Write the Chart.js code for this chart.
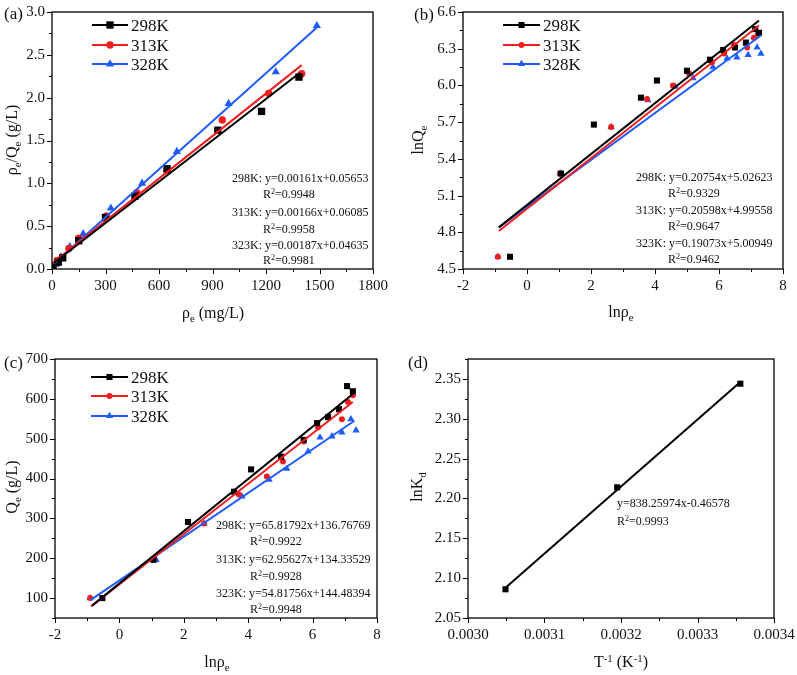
<!DOCTYPE html>
<html>
<head>
<meta charset="utf-8">
<script src="https://cdn.jsdelivr.net/npm/chart.js@4.4.0/dist/chart.umd.min.js"></script>
<style>
  html, body { margin: 0; padding: 0; background: #fff; }
  #wrap { position: relative; width: 797px; height: 675px; }
  canvas { position: absolute; }
</style>
</head>
<body>
<div id="wrap">
  <canvas id="ca" width="398" height="335" style="left:0;top:0"></canvas>
  <canvas id="cb" width="399" height="335" style="left:398px;top:0"></canvas>
  <canvas id="cc" width="398" height="340" style="left:0;top:335px"></canvas>
  <canvas id="cd" width="399" height="340" style="left:398px;top:335px"></canvas>
</div>
<script>
// (a) ρe/Qe vs ρe
const aX298 = [5, 35, 60, 150, 300, 465, 645, 930, 1175, 1385];
const aY298 = [0.02, 0.08, 0.13, 0.33, 0.60, 0.85, 1.17, 1.62, 1.84, 2.24];
const aX313 = [5, 30, 95, 150, 305, 475, 645, 955, 1215, 1400];
const aY313 = [0.03, 0.10, 0.24, 0.36, 0.62, 0.89, 1.15, 1.74, 2.05, 2.28];
const aX328 = [5, 20, 50, 100, 175, 330, 505, 700, 990, 1255, 1485];
const aY328 = [0.02, 0.05, 0.14, 0.26, 0.41, 0.71, 1.00, 1.37, 1.93, 2.30, 2.84];
const aFitX298 = [10, 1390], aFitY298 = [0.07, 2.29];
const aFitX313 = [10, 1400], aFitY313 = [0.08, 2.38];
const aFitX328 = [10, 1485], aFitY328 = [0.06, 2.82];

// (b) lnQe vs lnρe
const bX298 = [-0.53, 1.06, 2.09, 3.56, 4.06, 5.00, 5.72, 6.13, 6.50, 6.84, 7.13, 7.25];
const bY298 = [4.60, 5.28, 5.68, 5.90, 6.04, 6.12, 6.21, 6.29, 6.31, 6.35, 6.46, 6.43];
const bX313 = [-0.91, 1.03, 2.63, 3.75, 4.56, 5.06, 5.78, 6.16, 6.47, 6.88, 7.09, 7.22];
const bY313 = [4.60, 5.28, 5.66, 5.89, 6.00, 6.10, 6.19, 6.26, 6.33, 6.31, 6.39, 6.42];
const bX328 = [-0.91, 1.06, 2.63, 3.78, 4.63, 5.19, 5.81, 6.25, 6.56, 6.91, 7.19, 7.31];
const bY328 = [4.60, 5.28, 5.66, 5.88, 5.99, 6.06, 6.15, 6.22, 6.23, 6.25, 6.31, 6.26];
const bFitX298 = [-0.88, 7.25], bFitY298 = [4.84, 6.53];
const bFitX313 = [-0.88, 7.25], bFitY313 = [4.81, 6.49];
const bFitX328 = [-0.88, 7.32], bFitY328 = [4.84, 6.41];

// (c) Qe vs lnρe
const cX298 = [-0.53, 1.06, 2.13, 3.56, 4.09, 5.02, 5.72, 6.14, 6.48, 6.82, 7.07, 7.25];
const cY298 = [100, 196, 291, 367, 423, 455, 497, 539, 554, 574, 632, 619];
const cX313 = [-0.91, 1.03, 2.63, 3.71, 4.58, 5.08, 5.73, 6.17, 6.48, 6.91, 7.10, 7.25];
const cY313 = [100, 197, 287, 360, 405, 443, 493, 529, 556, 549, 592, 609];
const cX328 = [-0.91, 1.14, 2.63, 3.81, 4.65, 5.20, 5.86, 6.23, 6.60, 6.91, 7.19, 7.35];
const cY328 = [100, 196, 287, 355, 397, 425, 468, 503, 506, 516, 549, 521];
const cFitX298 = [-0.85, 7.25], cFitY298 = [81, 612];
const cFitX313 = [-0.88, 7.25], cFitY313 = [79, 592];
const cFitX328 = [-0.90, 7.30], cFitY328 = [95, 545];

// (d) lnKd vs 1/T
const dX = [0.003049, 0.003195, 0.003356];
const dY = [2.086, 2.214, 2.344];
const dFitX = [0.003049, 0.003356], dFitY = [2.088, 2.346];

const seriesNames = ['298K', '313K', '328K'];

const SERIF = '"Liberation Serif", "Times New Roman", serif';
const BLACK = '#000000';
const RED = '#f01e1e';
const BLUE = '#1f5cff';
const colors = [BLACK, RED, BLUE];
const shapes = ['rect', 'circle', 'triangle'];

function pts(xs, ys) {
  return xs.map((x, i) => ({ x: x, y: ys[i] }));
}

function scatterSet(xs, ys, k, sizes) {
  return {
    data: pts(xs, ys),
    showLine: false,
    pointStyle: shapes[k],
    pointRadius: sizes[k],
    pointBackgroundColor: colors[k],
    pointBorderColor: colors[k],
    pointBorderWidth: 0
  };
}

function fitSet(xs, ys, k) {
  return {
    data: pts(xs, ys),
    showLine: true,
    borderColor: colors[k],
    borderWidth: 2,
    pointRadius: 0
  };
}

// 富文本：上下标
function richText(ctx, parts, x, y, size, align) {
  const segs = parts.map(p => {
    const fs = p[1] ? size * 0.68 : size;
    ctx.font = fs + 'px ' + SERIF;
    return { t: p[0], m: p[1], fs: fs, w: ctx.measureText(p[0]).width };
  });
  const total = segs.reduce((s, g) => s + g.w, 0);
  let cx = align === 'center' ? x - total / 2 : x;
  const base = y + size * 0.34;
  ctx.textAlign = 'left';
  ctx.textBaseline = 'alphabetic';
  segs.forEach(g => {
    ctx.font = g.fs + 'px ' + SERIF;
    let dy = 0;
    if (g.m === 'sub') dy = size * 0.24;
    if (g.m === 'sup') dy = -size * 0.36;
    ctx.fillText(g.t, cx, base + dy);
    cx += g.w;
  });
}

function marker(ctx, shape, x, y, r) {
  ctx.beginPath();
  if (shape === 'rect') {
    const s = r * Math.SQRT1_2;
    ctx.rect(x - s, y - s, 2 * s, 2 * s);
  } else if (shape === 'circle') {
    ctx.arc(x, y, r, 0, Math.PI * 2);
  } else {
    ctx.moveTo(x, y - r);
    ctx.lineTo(x + r * 0.866, y + r * 0.5);
    ctx.lineTo(x - r * 0.866, y + r * 0.5);
    ctx.closePath();
  }
  ctx.fill();
}

function tickVals(min, max, minor, major) {
  const out = [];
  const n = Math.round((max - min) / minor);
  for (let i = 0; i <= n; i++) {
    const v = min + i * minor;
    const q = v / major;
    out.push([v, Math.abs(q - Math.round(q)) < 1e-6]);
  }
  return out;
}

// 边框、刻度、图例、标注
const decoPlugin = {
  id: 'deco',
  afterDraw(chart, args, o) {
    const ctx = chart.ctx, ca = chart.chartArea;
    const xs = chart.scales.x, ys = chart.scales.y;
    ctx.save();
    ctx.strokeStyle = '#000';
    ctx.lineWidth = 1.3;
    ctx.strokeRect(ca.left, ca.top, ca.right - ca.left, ca.bottom - ca.top);
    ctx.beginPath();
    tickVals(xs.min, xs.max, o.xMinor, o.xMajor).forEach(t => {
      const p = Math.round(xs.getPixelForValue(t[0])) + 0.5;
      ctx.moveTo(p, ca.bottom);
      ctx.lineTo(p, ca.bottom + (t[1] ? 5 : 3));
    });
    tickVals(ys.min, ys.max, o.yMinor, o.yMajor).forEach(t => {
      const p = Math.round(ys.getPixelForValue(t[0])) + 0.5;
      ctx.moveTo(ca.left, p);
      ctx.lineTo(ca.left - (t[1] ? 5 : 3), p);
    });
    ctx.lineWidth = 1;
    ctx.stroke();

    ctx.fillStyle = '#111';
    ctx.translate(-o.ox, -o.oy);

    // 图例
    if (o.legend) {
      const L = o.legend;
      seriesNames.forEach((name, k) => {
        const y = L.ys[k];
        ctx.strokeStyle = colors[k];
        ctx.lineWidth = 2;
        ctx.beginPath();
        ctx.moveTo(L.x0, y);
        ctx.lineTo(L.x1, y);
        ctx.stroke();
        ctx.fillStyle = colors[k];
        marker(ctx, shapes[k], (L.x0 + L.x1) / 2, y, L.r[k]);
        ctx.fillStyle = '#111';
        richText(ctx, [[name, '']], L.x1 + 3, y, 17, 'left');
      });
    }

    // 标注文字
    (o.notes || []).forEach(n => richText(ctx, n.parts, n.x, n.y, 12, 'left'));

    // 面板标签
    richText(ctx, [[o.tag, '']], o.tagX, o.tagY, 17, 'left');

    // 坐标轴标题
    richText(ctx, o.xTitle.parts, o.xTitle.x, o.xTitle.y, 16, 'center');
    ctx.save();
    ctx.translate(o.yTitle.x, o.yTitle.y);
    ctx.rotate(-Math.PI / 2);
    richText(ctx, o.yTitle.parts, 0, 0, 16, 'center');
    ctx.restore();

    ctx.restore();
  }
};

function keepSteps(step) {
  return s => {
    s.ticks = s.ticks.filter(t => {
      const q = t.value / step;
      return Math.abs(q - Math.round(q)) < 1e-6;
    });
  };
}

function makeChart(p) {
  const cv = document.getElementById(p.id);
  const W = cv.width, H = cv.height;
  const tickFont = { family: SERIF, size: 15 };
  return new Chart(cv.getContext('2d'), {
    type: 'scatter',
    data: { datasets: p.datasets },
    options: {
      responsive: false,
      animation: false,
      devicePixelRatio: 1,
      layout: { padding: { left: 0, bottom: 0, top: p.plot.t - p.oy, right: p.ox + W - p.plot.r } },
      plugins: {
        legend: { display: false },
        tooltip: { enabled: false },
        deco: Object.assign({ ox: p.ox, oy: p.oy }, p.deco)
      },
      scales: {
        x: {
          type: 'linear', min: p.x.min, max: p.x.max,
          grid: { display: false, drawTicks: false },
          border: { display: false },
          ticks: { stepSize: p.x.step, callback: p.x.fmt, font: tickFont, color: '#111', padding: 8, maxRotation: 0, autoSkip: false },
          afterBuildTicks: keepSteps(p.x.step),
          afterFit: s => { s.height = p.oy + H - p.plot.b; s.paddingLeft = 0; s.paddingRight = 0; }
        },
        y: {
          type: 'linear', min: p.y.min, max: p.y.max,
          grid: { display: false, drawTicks: false },
          border: { display: false },
          ticks: { stepSize: p.y.step, callback: p.y.fmt, font: tickFont, color: '#111', padding: 7, autoSkip: false },
          afterBuildTicks: keepSteps(p.y.step),
          afterFit: s => { s.width = p.plot.l - p.ox; s.paddingTop = 0; s.paddingBottom = 0; }
        }
      }
    },
    plugins: [decoPlugin]
  });
}

const sizesA = [5.2, 3.7, 4.8];
const sizesB = [4.3, 3.0, 4.2];

makeChart({
  id: 'ca', ox: 0, oy: 0,
  plot: { l: 52, t: 12, r: 373, b: 269 },
  x: { min: 0, max: 1800, step: 300, fmt: v => String(v) },
  y: { min: 0, max: 3, step: 0.5, fmt: v => v.toFixed(1) },
  datasets: [
    fitSet(aFitX298, aFitY298, 0), fitSet(aFitX313, aFitY313, 1), fitSet(aFitX328, aFitY328, 2),
    scatterSet(aX298, aY298, 0, sizesA), scatterSet(aX313, aY313, 1, sizesA), scatterSet(aX328, aY328, 2, sizesA)
  ],
  deco: {
    xMinor: 150, xMajor: 300, yMinor: 0.25, yMajor: 0.5,
    legend: { x0: 92, x1: 128, ys: [25, 45, 64], r: sizesA },
    notes: [
      { x: 232, y: 178, parts: [['298K: y=0.00161x+0.05653', '']] },
      { x: 263, y: 194, parts: [['R', ''], ['2', 'sup'], ['=0.9948', '']] },
      { x: 232, y: 212, parts: [['313K: y=0.00166x+0.06085', '']] },
      { x: 263, y: 229, parts: [['R', ''], ['2', 'sup'], ['=0.9958', '']] },
      { x: 232, y: 245, parts: [['323K: y=0.00187x+0.04635', '']] },
      { x: 263, y: 260, parts: [['R', ''], ['2', 'sup'], ['=0.9981', '']] }
    ],
    tag: '(a)', tagX: 4, tagY: 13,
    xTitle: { x: 213, y: 313, parts: [['ρ', ''], ['e', 'sub'], [' (mg/L)', '']] },
    yTitle: { x: 12, y: 140, parts: [['ρ', ''], ['e', 'sub'], ['/Q', ''], ['e', 'sub'], [' (g/L)', '']] }
  }
});

makeChart({
  id: 'cb', ox: 398, oy: 0,
  plot: { l: 463, t: 12, r: 783, b: 269 },
  x: { min: -2, max: 8, step: 2, fmt: v => String(v) },
  y: { min: 4.5, max: 6.6, step: 0.3, fmt: v => v.toFixed(1) },
  datasets: [
    fitSet(bFitX298, bFitY298, 0), fitSet(bFitX313, bFitY313, 1), fitSet(bFitX328, bFitY328, 2),
    scatterSet(bX298, bY298, 0, sizesB), scatterSet(bX313, bY313, 1, sizesB), scatterSet(bX328, bY328, 2, sizesB)
  ],
  deco: {
    xMinor: 1, xMajor: 2, yMinor: 0.15, yMajor: 0.3,
    legend: { x0: 503, x1: 540, ys: [25, 45, 64], r: sizesB },
    notes: [
      { x: 636, y: 177, parts: [['298K: y=0.20754x+5.02623', '']] },
      { x: 668, y: 193, parts: [['R', ''], ['2', 'sup'], ['=0.9329', '']] },
      { x: 636, y: 210, parts: [['313K: y=0.20598x+4.99558', '']] },
      { x: 668, y: 226, parts: [['R', ''], ['2', 'sup'], ['=0.9647', '']] },
      { x: 636, y: 243, parts: [['323K: y=0.19073x+5.00949', '']] },
      { x: 668, y: 259, parts: [['R', ''], ['2', 'sup'], ['=0.9462', '']] }
    ],
    tag: '(b)', tagX: 414, tagY: 14,
    xTitle: { x: 621, y: 312, parts: [['lnρ', ''], ['e', 'sub']] },
    yTitle: { x: 418, y: 140, parts: [['lnQ', ''], ['e', 'sub']] }
  }
});

makeChart({
  id: 'cc', ox: 0, oy: 335,
  plot: { l: 55, t: 359, r: 377, b: 618 },
  x: { min: -2, max: 8, step: 2, fmt: v => String(v) },
  y: { min: 50, max: 700, step: 100, fmt: v => String(v) },
  datasets: [
    fitSet(cFitX298, cFitY298, 0), fitSet(cFitX313, cFitY313, 1), fitSet(cFitX328, cFitY328, 2),
    scatterSet(cX298, cY298, 0, sizesB), scatterSet(cX313, cY313, 1, sizesB), scatterSet(cX328, cY328, 2, sizesB)
  ],
  deco: {
    xMinor: 1, xMajor: 2, yMinor: 50, yMajor: 100,
    legend: { x0: 91, x1: 128, ys: [377, 396, 416], r: sizesB },
    notes: [
      { x: 216, y: 525, parts: [['298K: y=65.81792x+136.76769', '']] },
      { x: 250, y: 541, parts: [['R', ''], ['2', 'sup'], ['=0.9922', '']] },
      { x: 216, y: 559, parts: [['313K: y=62.95627x+134.33529', '']] },
      { x: 250, y: 576, parts: [['R', ''], ['2', 'sup'], ['=0.9928', '']] },
      { x: 216, y: 593, parts: [['323K: y=54.81756x+144.48394', '']] },
      { x: 250, y: 609, parts: [['R', ''], ['2', 'sup'], ['=0.9948', '']] }
    ],
    tag: '(c)', tagX: 4, tagY: 362,
    xTitle: { x: 217, y: 662, parts: [['lnρ', ''], ['e', 'sub']] },
    yTitle: { x: 12, y: 487, parts: [['Q', ''], ['e', 'sub'], [' (g/L)', '']] }
  }
});

makeChart({
  id: 'cd', ox: 398, oy: 335,
  plot: { l: 468, t: 359, r: 774, b: 618 },
  x: { min: 0.003, max: 0.0034, step: 0.0001, fmt: v => v.toFixed(4) },
  y: { min: 2.05, max: 2.375, step: 0.05, fmt: v => v.toFixed(2) },
  datasets: [
    fitSet(dFitX, dFitY, 0),
    scatterSet(dX, dY, 0, sizesB)
  ],
  deco: {
    xMinor: 0.00005, xMajor: 0.0001, yMinor: 0.025, yMajor: 0.05,
    notes: [
      { x: 617, y: 503, parts: [['y=838.25974x-0.46578', '']] },
      { x: 617, y: 521, parts: [['R', ''], ['2', 'sup'], ['=0.9993', '']] }
    ],
    tag: '(d)', tagX: 408, tagY: 362,
    xTitle: { x: 621, y: 662, parts: [['T', ''], ['-1', 'sup'], [' (K', ''], ['-1', 'sup'], [')', '']] },
    yTitle: { x: 417, y: 487, parts: [['lnK', ''], ['d', 'sub']] }
  }
});
</script>
</body>
</html>
